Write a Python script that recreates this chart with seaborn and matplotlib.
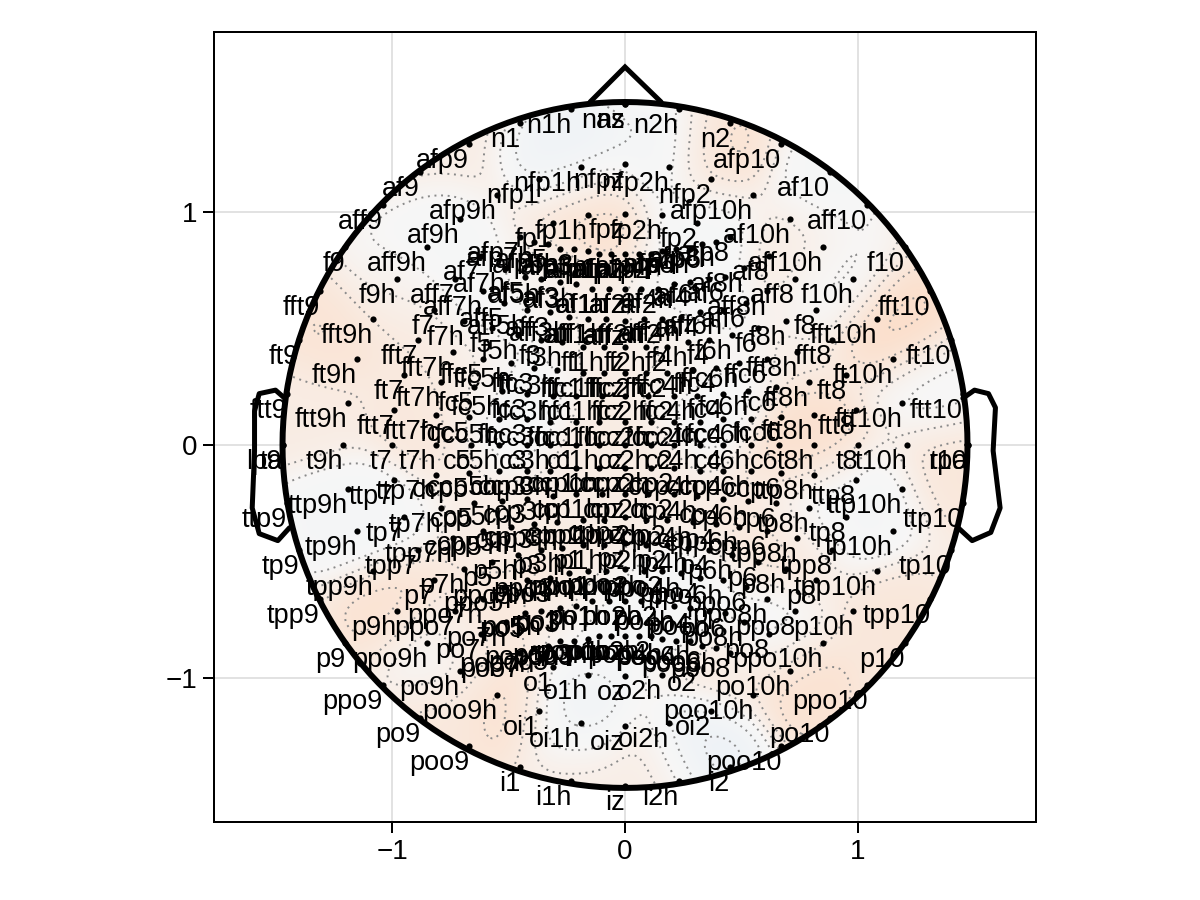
import numpy as np
import pandas as pd
import matplotlib
matplotlib.use("Agg")
import matplotlib.pyplot as plt
from matplotlib.colors import LinearSegmentedColormap
from matplotlib.patches import Circle
import seaborn as sns

# electrode rows: names, x, y (data units)
n_names = ["n1","n1h","nas","nz","n2h","n2"]
n_x = [-.45,-.23,0,0,.23,.45]
n_y = [1.38,1.44,1.46,1.46,1.44,1.38]
nfp_names = ["nfp1","nfp1h","nfpz","nfp2h","nfp2"]
nfp_x = [-.37,-.19,0,.19,.37]
nfp_y = [1.14,1.19,1.205,1.19,1.14]
fp_names = ["fp1","fp1h","fpz","fp2h","fp2"]
fp_x = [-.31,-.16,0,.16,.31]
fp_y = [.95,.985,.99,.985,.95]
afp_names = ["afp9","afp9h","afp7","afp7h","afp5","afp5h","afp3","afp3h","afp1","afp1h","afpz","afp2h","afp2","afp4h","afp4","afp6h","afp6","afp8h","afp8","afp10h","afp10"]
afp_x = [-.67,-.55,-.45,-.39,-.33,-.28,-.22,-.16,-.11,-.06,0,.06,.11,.16,.22,.28,.33,.39,.45,.55,.67]
afp_y = [1.29,1.07,.89,.87,.86,.84,.84,.83,.82,.82,.82,.82,.82,.83,.84,.84,.86,.87,.89,1.07,1.29]
af_names = ["af9","af9h","af7","af7h","af5","af5h","af3","af3h","af1","af1h","afz","af2h","af2","af4h","af4","af6h","af6","af8h","af8","af10h","af10"]
af_x = [-.88,-.71,-.62,-.51,-.43,-.36,-.28,-.21,-.14,-.07,0,.07,.14,.21,.28,.36,.43,.51,.62,.71,.88]
af_y = [1.17,.97,.81,.76,.72,.71,.70,.69,.67,.67,.67,.67,.67,.69,.70,.71,.72,.76,.81,.97,1.17]
aff_names = ["aff9","aff9h","aff7","aff7h","aff5","aff5h","aff3","aff3h","aff1","aff1h","affz","aff2h","aff2","aff4h","aff4","aff6h","aff6","aff8h","aff8","aff10h","aff10"]
aff_x = [-1.04,-.85,-.73,-.61,-.52,-.42,-.32,-.24,-.16,-.08,0,.08,.16,.24,.32,.42,.52,.61,.73,.85,1.04]
aff_y = [1.03,.85,.71,.66,.61,.58,.57,.55,.54,.54,.53,.54,.54,.55,.57,.58,.61,.66,.71,.85,1.03]
f_names = ["f9","f9h","f7","f7h","f5","f5h","f3","f3h","f1","f1h","fz","f2h","f2","f4h","f4","f6h","f6","f8h","f8","f10h","f10"]
f_x = [-1.20,-.98,-.82,-.69,-.57,-.46,-.36,-.27,-.18,-.09,0,.09,.18,.27,.36,.46,.57,.69,.82,.98,1.20]
f_y = [.85,.71,.58,.53,.50,.47,.45,.44,.42,.42,.42,.42,.42,.44,.45,.47,.50,.53,.58,.71,.85]
ffc_names = ["fft9","fft9h","fft7","fft7h","ffc5","ffc5h","ffc3","ffc3h","ffc1","ffc1h","ffcz","ffc2h","ffc2","ffc4h","ffc4","ffc6h","ffc6","fft8h","fft8","fft10h","fft10"]
ffc_x = [-1.31,-1.08,-.89,-.74,-.61,-.49,-.39,-.29,-.18,-.09,0,.09,.18,.29,.39,.49,.61,.74,.89,1.08,1.31]
ffc_y = [.66,.54,.45,.40,.37,.35,.33,.32,.31,.31,.31,.31,.31,.32,.33,.35,.37,.40,.45,.54,.66]
fc_names = ["ft9","ft9h","ft7","ft7h","fc5","fc5h","fc3","fc3h","fc1","fc1h","fcz","fc2h","fc2","fc4h","fc4","fc6h","fc6","ft8h","ft8","ft10h","ft10"]
fc_x = [-1.40,-1.15,-.95,-.79,-.65,-.53,-.42,-.31,-.21,-.10,0,.10,.21,.31,.42,.53,.65,.79,.95,1.15,1.40]
fc_y = [.45,.37,.30,.27,.25,.23,.22,.21,.21,.21,.21,.21,.21,.21,.22,.23,.25,.27,.30,.37,.45]
fcc_names = ["ftt9","ftt9h","ftt7","ftt7h","fcc5","fcc5h","fcc3","fcc3h","fcc1","fcc1h","fccz","fcc2h","fcc2","fcc4h","fcc4","fcc6h","fcc6","ftt8h","ftt8","ftt10h","ftt10"]
fcc_x = [-1.45,-1.19,-.99,-.81,-.67,-.54,-.42,-.32,-.21,-.11,0,.11,.21,.32,.42,.54,.67,.81,.99,1.19,1.45]
fcc_y = [.22,.18,.15,.13,.12,.11,.11,.10,.10,.10,.10,.10,.10,.10,.11,.11,.12,.13,.15,.18,.22]
c_names = ["lpa","t9","t9h","t7","t7h","c5","c5h","c3","c3h","c1","c1h","cz","c2h","c2","c4h","c4","c6h","c6","t8h","t8","t10h","t10","rpa"]
c_x = [-1.47,-1.47,-1.21,-1.00,-.81,-.66,-.54,-.42,-.32,-.21,-.11,0,.11,.21,.32,.42,.54,.66,.81,1.00,1.21,1.47,1.47]
c_y = [0,0,0,0,0,0,0,0,0,0,0,0,0,0,0,0,0,0,0,0,0,0,0]
ccp_names = ["ttp9","ttp9h","ttp7","ttp7h","ccp5","ccp5h","ccp3","ccp3h","ccp1","ccp1h","ccpz","ccp2h","ccp2","ccp4h","ccp4","ccp6h","ccp6","ttp8h","ttp8","ttp10h","ttp10"]
ccp_x = [-1.45,-1.19,-.99,-.81,-.67,-.54,-.42,-.32,-.21,-.11,0,.11,.21,.32,.42,.54,.67,.81,.99,1.19,1.45]
ccp_y = [-.25,-.19,-.15,-.13,-.12,-.11,-.11,-.11,-.10,-.10,-.10,-.10,-.10,-.11,-.11,-.11,-.12,-.13,-.15,-.19,-.25]
cp_names = ["tp9","tp9h","tp7","tp7h","cp5","cp5h","cp3","cp3h","cp1","cp1h","cpz","cp2h","cp2","cp4h","cp4","cp6h","cp6","tp8h","tp8","tp10h","tp10"]
cp_x = [-1.40,-1.15,-.95,-.79,-.65,-.53,-.42,-.31,-.21,-.10,0,.10,.21,.31,.42,.53,.65,.79,.95,1.15,1.40]
cp_y = [-.45,-.37,-.31,-.27,-.25,-.24,-.23,-.22,-.21,-.21,-.21,-.21,-.21,-.22,-.23,-.24,-.25,-.27,-.31,-.37,-.45]
cpp_names = ["tpp9","tpp9h","tpp7","tpp7h","cpp5","cpp5h","cpp3","cpp3h","cpp1","cpp1h","cppz","cpp2h","cpp2","cpp4h","cpp4","cpp6h","cpp6","tpp8h","tpp8","tpp10h","tpp10"]
cpp_x = [-1.31,-1.08,-.89,-.74,-.61,-.49,-.39,-.29,-.18,-.09,0,.09,.18,.29,.39,.49,.61,.74,.89,1.08,1.31]
cpp_y = [-.66,-.54,-.45,-.40,-.37,-.35,-.34,-.33,-.32,-.32,-.31,-.32,-.32,-.33,-.34,-.35,-.37,-.40,-.45,-.54,-.66]
p_names = ["p9","p9h","p7","p7h","p5","p5h","p3","p3h","p1","p1h","pz","p2h","p2","p4h","p4","p6h","p6","p8h","p8","p10h","p10"]
p_x = [-1.20,-.98,-.82,-.69,-.57,-.46,-.36,-.27,-.18,-.09,0,.09,.18,.27,.36,.46,.57,.69,.82,.98,1.20]
p_y = [-.85,-.71,-.58,-.53,-.50,-.47,-.45,-.44,-.43,-.43,-.42,-.43,-.43,-.44,-.45,-.47,-.50,-.53,-.58,-.71,-.85]
ppo_names = ["ppo9","ppo9h","ppo7","ppo7h","ppo5","ppo5h","ppo3","ppo3h","ppo1","ppo1h","ppoz","ppo2h","ppo2","ppo4h","ppo4","ppo6h","ppo6","ppo8h","ppo8","ppo10h","ppo10"]
ppo_x = [-1.04,-.85,-.73,-.61,-.52,-.42,-.32,-.24,-.16,-.08,0,.08,.16,.24,.32,.42,.52,.61,.73,.85,1.04]
ppo_y = [-1.03,-.85,-.71,-.66,-.61,-.58,-.57,-.55,-.54,-.54,-.53,-.54,-.54,-.55,-.57,-.58,-.61,-.66,-.71,-.85,-1.03]
po_names = ["po9","po9h","po7","po7h","po5","po5h","po3","po3h","po1","po1h","poz","po2h","po2","po4h","po4","po6h","po6","po8h","po8","po10h","po10"]
po_x = [-.88,-.71,-.62,-.51,-.43,-.36,-.28,-.21,-.14,-.07,0,.07,.14,.21,.28,.36,.43,.51,.62,.71,.88]
po_y = [-1.17,-.97,-.81,-.76,-.72,-.71,-.70,-.69,-.67,-.67,-.67,-.67,-.67,-.69,-.70,-.71,-.72,-.76,-.81,-.97,-1.17]
poo_names = ["poo9","poo9h","poo7","poo7h","poo5","poo5h","poo3","poo3h","poo1","poo1h","pooz","poo2h","poo2","poo4h","poo4","poo6h","poo6","poo8h","poo8","poo10h","poo10"]
poo_x = [-.67,-.55,-.45,-.39,-.33,-.28,-.22,-.16,-.11,-.06,0,.06,.11,.16,.22,.28,.33,.39,.45,.55,.67]
poo_y = [-1.29,-1.07,-.89,-.87,-.86,-.84,-.84,-.83,-.82,-.82,-.82,-.82,-.82,-.83,-.84,-.84,-.86,-.87,-.89,-1.07,-1.29]
o_names = ["o1","o1h","oz","o2h","o2"]
o_x = [-.31,-.16,0,.16,.31]
o_y = [-.95,-.985,-.99,-.985,-.95]
oi_names = ["oi1","oi1h","oiz","oi2h","oi2"]
oi_x = [-.37,-.19,0,.19,.37]
oi_y = [-1.14,-1.19,-1.205,-1.19,-1.14]
i_names = ["i1","i1h","iz","i2h","i2"]
i_x = [-.45,-.23,0,.23,.45]
i_y = [-1.38,-1.44,-1.46,-1.44,-1.38]

names = (n_names+nfp_names+fp_names+afp_names+af_names+aff_names+f_names+ffc_names+fc_names+fcc_names
         +c_names+ccp_names+cp_names+cpp_names+p_names+ppo_names+po_names+poo_names+o_names+oi_names+i_names)
xs = (n_x+nfp_x+fp_x+afp_x+af_x+aff_x+f_x+ffc_x+fc_x+fcc_x+c_x+ccp_x+cp_x+cpp_x+p_x+ppo_x+po_x+poo_x+o_x+oi_x+i_x)
ys = (n_y+nfp_y+fp_y+afp_y+af_y+aff_y+f_y+ffc_y+fc_y+fcc_y+c_y+ccp_y+cp_y+cpp_y+p_y+ppo_y+po_y+poo_y+o_y+oi_y+i_y)
electrodes = pd.DataFrame({"name": names, "x": xs, "y": ys})

# head outline
head_radius = 1.47
nose_x = [-.15,0,.155]
nose_y = [1.47,1.62,1.47]
ear_l_x = [-1.46,-1.50,-1.57,-1.59,-1.59,-1.60,-1.57,-1.49,-1.44]
ear_l_y = [.20,.235,.22,.145,-.025,-.27,-.38,-.41,-.355]
ear_r_x = [1.45,1.50,1.56,1.59,1.58,1.61,1.57,1.49,1.43]
ear_r_y = [.20,.235,.22,.16,-.025,-.27,-.375,-.41,-.355]

# field: hot and cold spots
spot_x = [1.18,-.15,.39,.74,-1.27,-.98,-.87,-1.39,.82,1.39,.72,-1.01,-.67,-.51,-.79,.74,1.17,.42,.12,-.21,0,-.28,.24,-.36,-.66,
          -.22,.15,.36,.84,-.99,-.78,-.51,.32,.91,-.51,-1.29,-1.11,.87,1.05,.32,.35,-.22,-.81,.62,-.12,.22,1.33]
spot_y = [.52,1.04,1.23,.88,.51,.65,.14,.11,-.03,-.09,-.42,-.69,-.82,-1.13,-1.16,-1.02,-.79,-.98,-1.39,-1.41,0,-.66,.36,.66,.32,
          1.23,1.26,.95,1.10,.74,.81,.58,.58,.74,.19,-.30,-.33,-.28,-.24,.22,-1.28,-1.16,-.89,-.81,-.79,-.72,.24]
spot_v = [1.0,.9,.8,.45,.7,.6,.55,.4,.9,.6,.6,.8,.6,.8,.55,.85,.6,.5,.35,.35,.4,.5,.4,.3,.4,
          -.7,-.3,-.2,-.2,-.2,-.2,-.2,-.1,-.1,-.2,-.2,-.2,-.3,-.2,-.2,-.8,-.5,-.15,-.15,-.2,-.2,-.1]

sns.set_theme(style="white")
plt.rcParams["font.family"] = ["Liberation Sans", "DejaVu Sans"]
plt.rcParams["axes.unicode_minus"] = True

fig = plt.figure(figsize=(12, 9), dpi=100)
ax = fig.add_axes([214/1200, 78/900, 822/1200, 790/900])
ax.set_xlim(-1.764, 1.764)
ax.set_ylim(-1.616, 1.77)

gx = np.linspace(-1.5, 1.5, 401)
gy = np.linspace(-1.5, 1.5, 401)
GX, GY = np.meshgrid(gx, gy)
sx, sy, sv = np.array(spot_x), np.array(spot_y), np.array(spot_v)
w = np.exp(-((GX[..., None]-sx)**2 + (GY[..., None]-sy)**2) / (2*0.13**2))
Z = ((w*sv).sum(-1) + 0.12*0.35) / (w.sum(-1) + 0.12)
cmap = LinearSegmentedColormap.from_list("field", ["#e8eff6", "#f7f7f7", "#fcdcc6"])
clip = Circle((0, 0), head_radius, transform=ax.transData)
im = ax.imshow(Z, extent=(-1.5, 1.5, -1.5, 1.5), origin="lower", cmap=cmap, vmin=-1.0, vmax=1.0,
               aspect="auto", zorder=1, interpolation="bilinear")
im.set_clip_path(clip)
cs = ax.contour(GX, GY, Z, levels=[-.5, -.2, .05, .25, .45, .65, .85], colors="#8a8a8a",
                linestyles=[(0, (1, 2.4))], linewidths=1.4, zorder=2)
cs.set_clip_path(clip)

# axes cosmetics
ax.set_xticks([-1, 0, 1])
ax.set_yticks([-1, 0, 1])
ax.set_xticklabels(["\u22121", "0", "1"])
ax.set_yticklabels(["\u22121", "0", "1"])
ax.tick_params(axis="both", length=8.2, width=1.44, color="black", labelsize=20, labelcolor="black",
               bottom=True, left=True, pad=4)
ax.set_axisbelow(True)
ax.grid(True, linewidth=1.44, zorder=0)
for gl in ax.get_xgridlines() + ax.get_ygridlines():
    gl.set_color("#e2e2e2")
for s in ax.spines.values():
    s.set_visible(True)
    s.set_color("black")
    s.set_linewidth(1.44)

# electrodes and labels
sns.scatterplot(data=electrodes, x="x", y="y", color="black", s=20, linewidth=0, ax=ax, zorder=4, legend=False, clip_on=False)
ax.set_xlabel("")
ax.set_ylabel("")

# head
th = np.linspace(0, 2*np.pi, 361)
lw = 4.3
ax.plot(head_radius*np.cos(th), head_radius*np.sin(th), color="black", lw=lw, zorder=3)
ax.plot(nose_x, nose_y, color="black", lw=3.6, zorder=3, solid_joinstyle="miter")
ax.plot(ear_l_x, ear_l_y, color="black", lw=3.6, zorder=3, solid_joinstyle="round")
ax.plot(ear_r_x, ear_r_y, color="black", lw=3.6, zorder=3, solid_joinstyle="round")

for _, r in electrodes.iterrows():
    ax.annotate(r["name"], (r["x"], r["y"]), xytext=(0, -3), textcoords="offset points",
                ha="right", va="top", fontsize=19.5, color="black", zorder=5)

fig.savefig("out.png", dpi=100)
